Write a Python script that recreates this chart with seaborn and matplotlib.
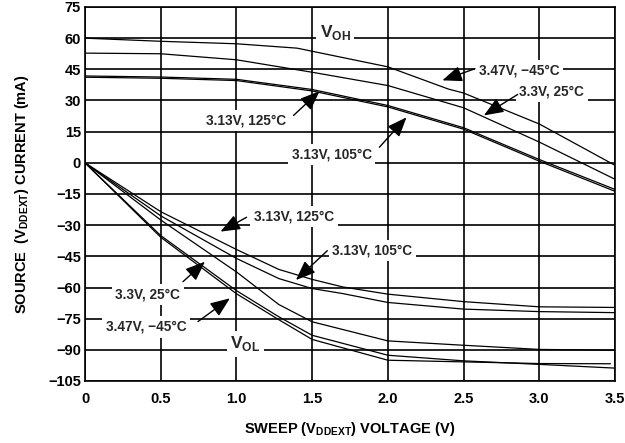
import matplotlib
matplotlib.use("Agg")
import matplotlib.pyplot as plt
import seaborn as sns
import pandas as pd

# ---- data (sweep voltage in V, current in mA) ----
# V_OH (source) curves
voh_x = [0, 0.5, 1.0, 1.5, 2.0, 2.5, 3.0, 3.5]
voh_a_x = [0, 0.5, 1.0, 1.4, 2.0, 2.4, 2.5, 3.0, 3.5]
voh_a = [60.0, 58.5, 57.3, 55.2, 46.2, 35.5, 33.6, 18.7, -1.2]      # 3.47V, -45C
voh_b = [52.8, 52.5, 49.6, 43.6, 37.2, 26.5, 10.0, -7.9]            # 3.3V, 25C
voh_c = [41.8, 41.3, 40.2, 35.3, 27.6, 16.9, 1.6, -12.8]            # 3.13V, 125C
voh_d = [41.2, 40.7, 39.6, 34.6, 26.9, 16.2, 0.8, -13.7]            # 3.13V, 105C

# V_OL (sink) curves
vol_x = [0, 0.5, 1.0, 1.28, 1.5, 1.7, 2.0, 2.5, 3.0, 3.5]
vol_e = [0, -23.5, -41.7, -51.3, -56.1, -59.7, -63.2, -66.8, -69.3, -69.6]   # 3.13V, 125C
vol_f = [0, -25.5, -46.0, -55.7, -60.5, -62.9, -67.2, -70.4, -71.6, -72.1]   # 3.13V, 105C
vol_g_x = [0, 0.5, 1.0, 1.28, 1.5, 2.0, 2.5, 3.0, 3.5]
vol_g = [0, -27.5, -52.5, -68.2, -76.5, -85.7, -87.8, -89.8, -90.2]          # 3.3V, 25C
vol_h1 = [0, -35.0, -61.5, -74.1, -83.0, -92.6, -95.3, -97.0, -98.8]         # 3.47V, -45C
vol_h2_x = [0, 0.5, 1.0, 1.28, 1.5, 2.0, 2.5, 3.0, 3.47]
vol_h2 = [0, -35.8, -63.0, -75.5, -85.0, -95.0, -95.8, -96.6, -96.7]

x_ticks = [0, 0.5, 1.0, 1.5, 2.0, 2.5, 3.0, 3.5]
x_tick_labels = ["0", "0.5", "1.0", "1.5", "2.0", "2.5", "3.0", "3.5"]
y_ticks = list(range(75, -106, -15))

# labels: (text, x, y) and arrows: (tail x, tail y, tip x, tip y)
labels = [
    ("3.47V, \u221245\u00b0C", 2.867, 44.2),
    ("3.3V, 25\u00b0C", 3.083, 34.5),
    ("3.13V, 125\u00b0C", 1.063, 20.4),
    ("3.13V, 105\u00b0C", 1.63, 3.9),
    ("3.13V, 125\u00b0C", 1.38, -25.9),
    ("3.13V, 105\u00b0C", 1.898, -42.3),
    ("3.3V, 25\u00b0C", 0.413, -63.4),
    ("3.47V, \u221245\u00b0C", 0.404, -79.0),
]
arrows = [
    (2.575, 45.3, 2.36, 39.7),
    (2.857, 32.9, 2.634, 22.8),
    (1.377, 22.8, 1.549, 34.5),
    (1.944, 7.5, 2.123, 21.9),
    (1.067, -26.2, 0.895, -33.1),
    (1.60, -42.3, 1.393, -56.4),
    (0.647, -57.2, 0.792, -47.6),
    (0.746, -76.4, 0.957, -65.2),
]

# long-form table for seaborn
frames = []
for name, xs, ys in [("voh_a", voh_a_x, voh_a), ("voh_b", voh_x, voh_b),
                     ("voh_c", voh_x, voh_c), ("voh_d", voh_x, voh_d),
                     ("vol_e", vol_x, vol_e), ("vol_f", vol_x, vol_f),
                     ("vol_g", vol_g_x, vol_g), ("vol_h1", vol_g_x, vol_h1),
                     ("vol_h2", vol_h2_x, vol_h2)]:
    frames.append(pd.DataFrame({"v": xs, "ma": ys, "curve": name}))
df = pd.concat(frames, ignore_index=True)

sns.set_theme(style="whitegrid")
plt.rcParams["font.family"] = ["Liberation Sans", "DejaVu Sans"]
plt.rcParams["font.weight"] = "bold"
plt.rcParams["mathtext.fontset"] = "custom"
plt.rcParams["mathtext.rm"] = "Liberation Sans:bold"
plt.rcParams["mathtext.bf"] = "Liberation Sans:bold"

fig = plt.figure(figsize=(6.25, 4.43), dpi=100)
ax = fig.add_axes([85 / 625, 62 / 443, 530 / 625, 374 / 443])

sns.lineplot(data=df, x="v", y="ma", units="curve", estimator=None, sort=False,
             color="black", linewidth=0.9, ax=ax, legend=False, zorder=2)

ax.set_xlim(0, 3.5)
ax.set_ylim(-105, 75)
ax.set_xticks(x_ticks)
ax.set_xticklabels(x_tick_labels)
ax.set_yticks(y_ticks)
ax.set_axisbelow(True)
ax.grid(True, color="black", linewidth=1.2)
for s in ax.spines.values():
    s.set_color("black")
    s.set_linewidth(1.2)
ax.tick_params(axis="both", length=0, labelsize=10.5, colors="black")
ax.tick_params(axis="x", pad=8)
ax.tick_params(axis="y", pad=3)
for t in ax.get_xticklabels() + ax.get_yticklabels():
    t.set_fontweight("bold")

ax.set_xlabel(r"SWEEP (V$_{\mathbf{DDEXT}}$) VOLTAGE (V)", fontsize=10.5,
              fontweight="bold", color="black", labelpad=10)
ax.set_ylabel(r"SOURCE  (V$_{\mathbf{DDEXT}}$) CURRENT (mA)", fontsize=10.5,
              fontweight="bold", color="black", labelpad=12)

box = dict(facecolor="white", edgecolor="none", pad=2.5)
for txt, tx, ty in labels:
    ax.text(tx, ty, txt, fontsize=9.8, fontweight="bold", ha="center",
            va="center", bbox=box, zorder=4)
for x0, y0, x1, y1 in arrows:
    ax.annotate("", xy=(x1, y1), xytext=(x0, y0),
                arrowprops=dict(arrowstyle="-|>,head_length=1.0,head_width=0.4",
                                color="black", lw=1.0, shrinkA=0, shrinkB=0,
                                mutation_scale=12), zorder=5)

ax.text(1.652, 62.6, r"V$_{\mathbf{OH}}$", fontsize=12.5, fontweight="bold",
        ha="center", va="center", bbox=box, zorder=4)
ax.text(1.06, -87.0, r"V$_{\mathbf{OL}}$", fontsize=12.5, fontweight="bold",
        ha="center", va="center", bbox=box, zorder=4)

fig.savefig("out.png", dpi=100)
